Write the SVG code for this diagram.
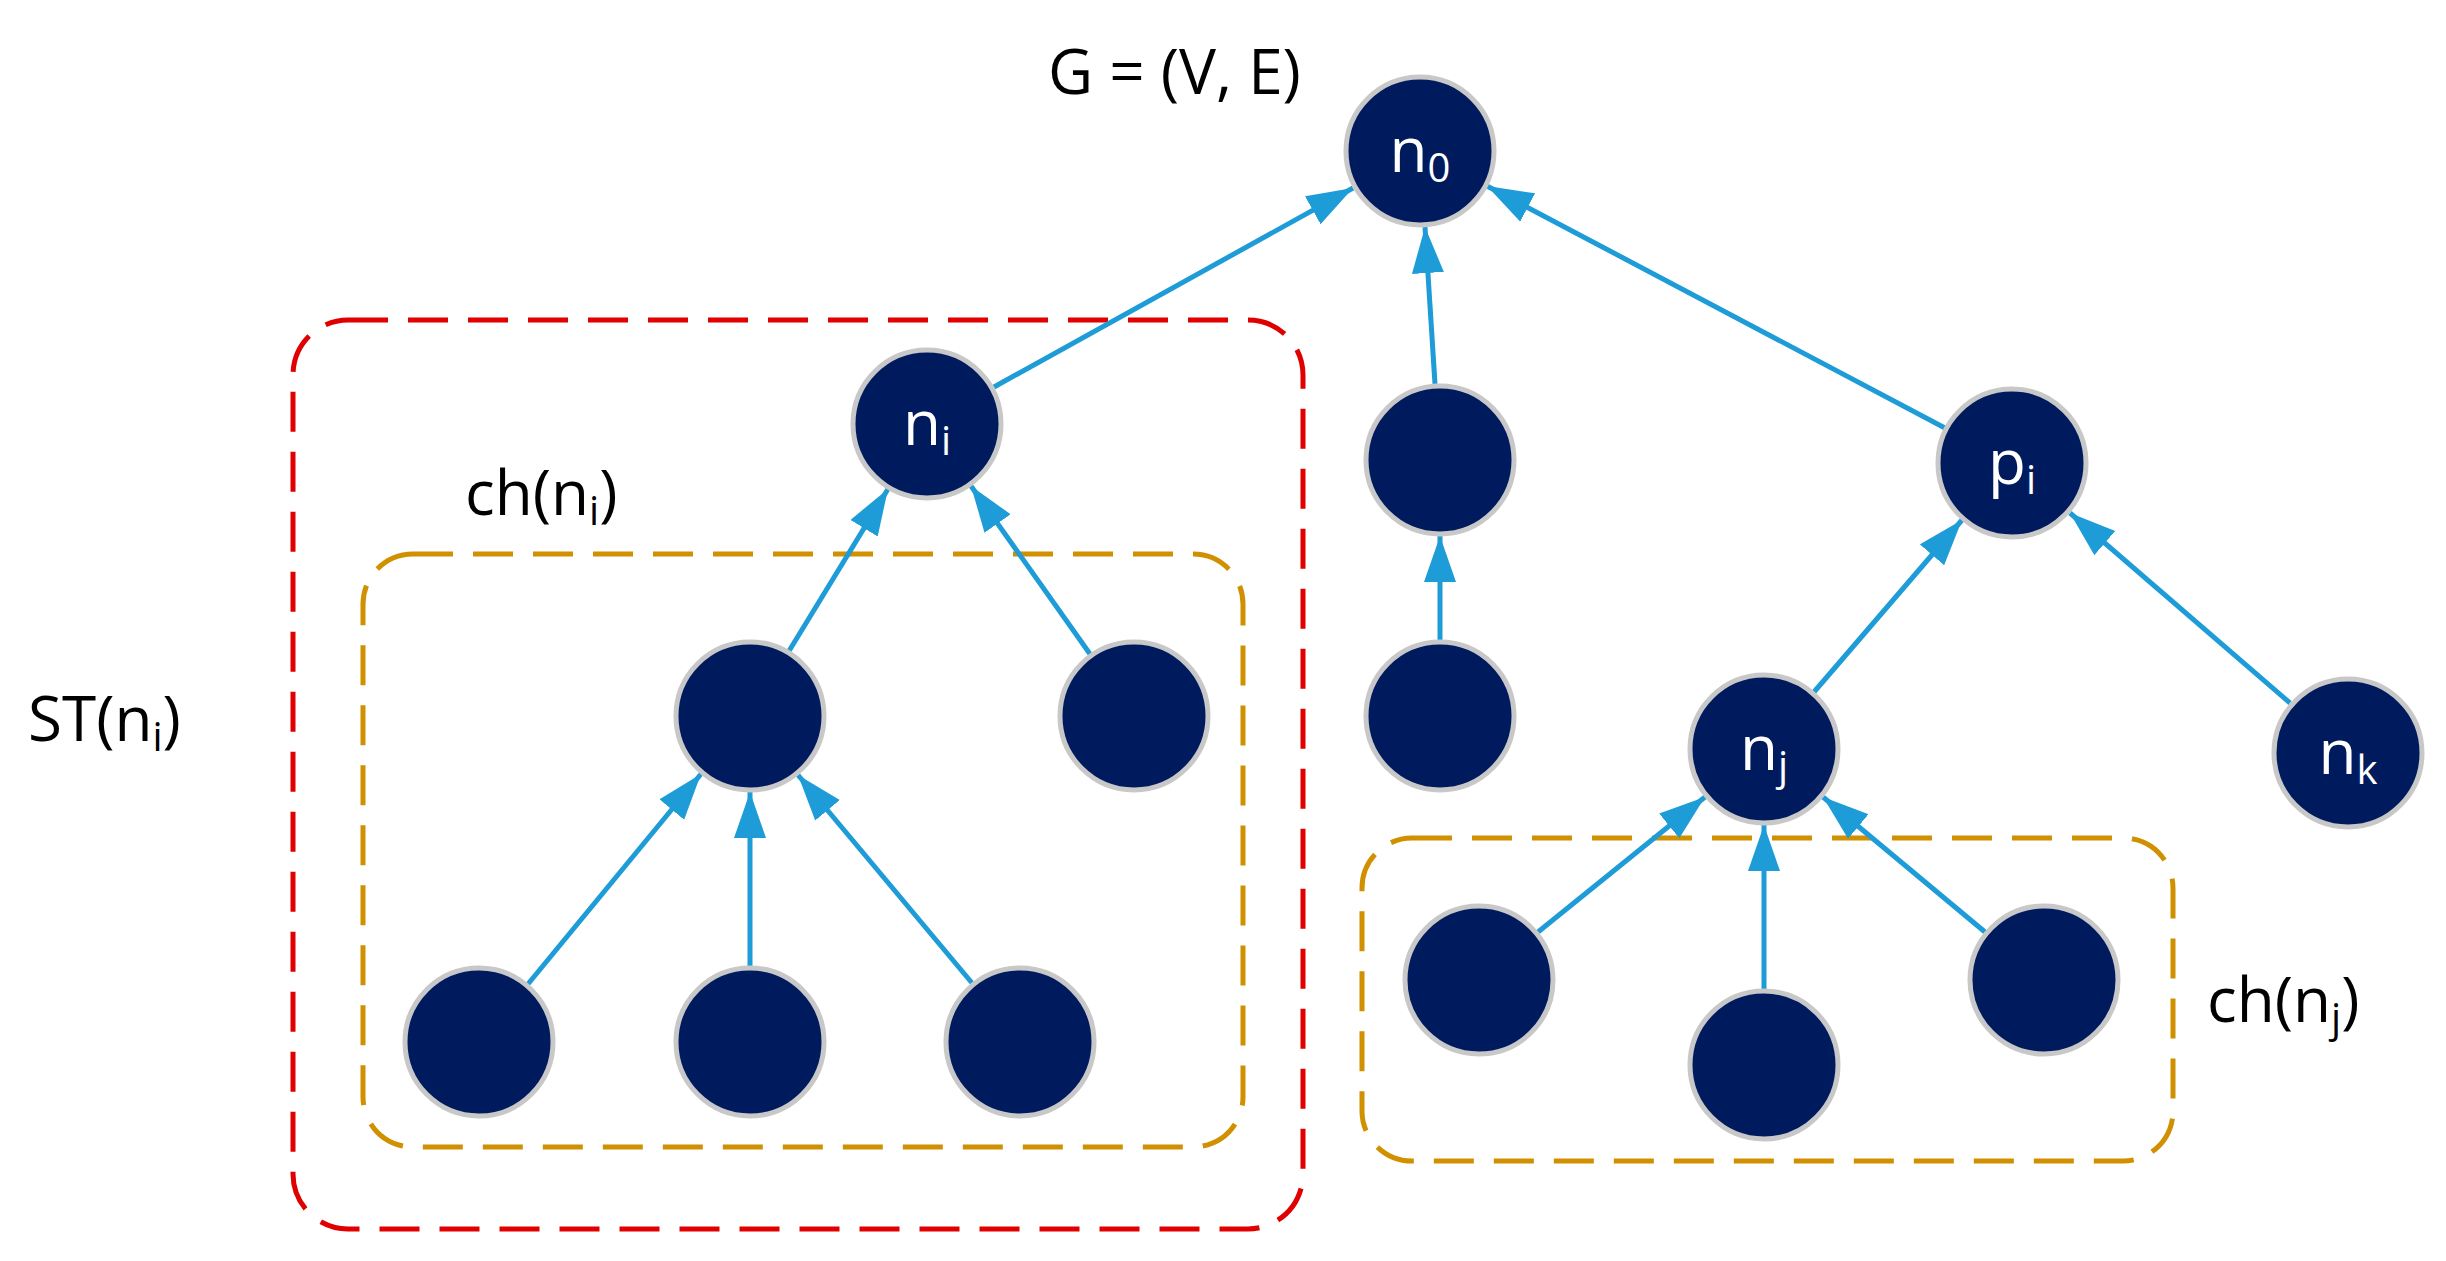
<svg xmlns="http://www.w3.org/2000/svg" width="2446" height="1261" viewBox="0 0 2446 1261">
<style>
.n{fill:#001a5e;stroke:#c8c8c8;stroke-width:5}
.l{fill:#fff;font-family:"Open Sans","Liberation Sans",sans-serif;font-size:62px;text-anchor:middle}
.t{fill:#000;font-family:"Open Sans","Liberation Sans",sans-serif;font-size:62px}
.e{stroke:#1e9cd7;stroke-width:5;fill:none;marker-end:url(#ah)}
.s{font-size:40px}
</style>
<defs><marker id="ah" markerUnits="userSpaceOnUse" markerWidth="48" markerHeight="34" refX="46" refY="16" orient="auto"><path d="M0,0 L46,16 L0,32 z" fill="#1e9cd7"/></marker></defs>
<rect x="293" y="320" width="1010" height="909" rx="55" fill="none" stroke="#e00000" stroke-width="5" stroke-dasharray="40 20"/>
<rect x="363" y="554" width="880" height="593" rx="50" fill="none" stroke="#d09000" stroke-width="5" stroke-dasharray="40 20"/>
<rect x="1362" y="838" width="811" height="323" rx="50" fill="none" stroke="#d09000" stroke-width="5" stroke-dasharray="40 20"/>
<g id="connectors">
<line class="e" x1="994" y1="387" x2="1353" y2="188"/>
<line class="e" x1="1435" y1="384" x2="1425" y2="227"/>
<line class="e" x1="1945" y1="428" x2="1487" y2="186"/>
<line class="e" x1="789" y1="651" x2="888" y2="489"/>
<line class="e" x1="1090" y1="654" x2="971" y2="486"/>
<line class="e" x1="1440" y1="640" x2="1440" y2="536"/>
<line class="e" x1="1814" y1="692" x2="1962" y2="520"/>
<line class="e" x1="2290" y1="703" x2="2070" y2="513"/>
<line class="e" x1="528" y1="984" x2="701" y2="774"/>
<line class="e" x1="750" y1="966" x2="750" y2="792"/>
<line class="e" x1="972" y1="983" x2="798" y2="775"/>
<line class="e" x1="1538" y1="932" x2="1705" y2="797"/>
<line class="e" x1="1764" y1="989" x2="1764" y2="825"/>
<line class="e" x1="1985" y1="932" x2="1823" y2="797"/>
</g>
<g id="n0"><circle class="n" cx="1420" cy="151" r="74"/><text class="l" x="1420" y="172">n<tspan class="s" dy="10">0</tspan></text></g>
<g id="ni"><circle class="n" cx="927" cy="424" r="74"/><text class="l" x="927" y="445">n<tspan class="s" dy="10">i</tspan></text></g>
<g id="m1"><circle class="n" cx="1440" cy="460" r="74"/></g>
<g id="pi"><circle class="n" cx="2012" cy="463" r="74"/><text class="l" x="2012" y="484">p<tspan class="s" dy="10">i</tspan></text></g>
<g id="a"><circle class="n" cx="750" cy="716" r="74"/></g>
<g id="b"><circle class="n" cx="1134" cy="716" r="74"/></g>
<g id="c"><circle class="n" cx="1440" cy="716" r="74"/></g>
<g id="nj"><circle class="n" cx="1764" cy="749" r="74"/><text class="l" x="1764" y="770">n<tspan class="s" dy="10">j</tspan></text></g>
<g id="nk"><circle class="n" cx="2348" cy="753" r="74"/><text class="l" x="2348" y="774">n<tspan class="s" dy="10">k</tspan></text></g>
<g id="d1"><circle class="n" cx="479" cy="1042" r="74"/></g>
<g id="d2"><circle class="n" cx="750" cy="1042" r="74"/></g>
<g id="d3"><circle class="n" cx="1020" cy="1042" r="74"/></g>
<g id="e1"><circle class="n" cx="1479" cy="980" r="74"/></g>
<g id="e2"><circle class="n" cx="1764" cy="1065" r="74"/></g>
<g id="e3"><circle class="n" cx="2044" cy="980" r="74"/></g>
<text class="t" x="1048" y="94">G = (V, E)</text>
<text class="t" x="28" y="741">ST(n<tspan class="s" dy="10">i</tspan><tspan dy="-10">)</tspan></text>
<text class="t" x="465" y="515">ch(n<tspan class="s" dy="10">i</tspan><tspan dy="-10">)</tspan></text>
<text class="t" x="2207" y="1022">ch(n<tspan class="s" dy="10">j</tspan><tspan dy="-10">)</tspan></text>
</svg>
